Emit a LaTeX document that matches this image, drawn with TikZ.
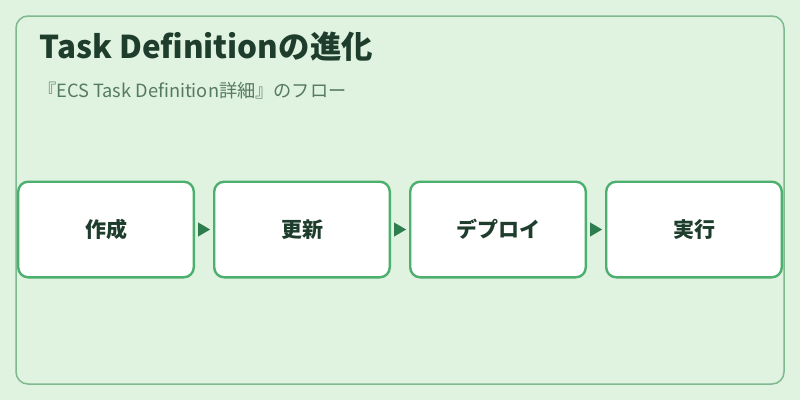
\documentclass[tikz,border=0pt]{standalone}
\usepackage{fontspec}
\setmainfont{Noto Sans CJK JP}
\usetikzlibrary{positioning,arrows.meta}

\definecolor{bgcol}{HTML}{E0F2E0}
\definecolor{framecol}{HTML}{7DBA8F}
\definecolor{boxcol}{HTML}{4CAF6E}
\definecolor{arrowcol}{HTML}{2E7D4F}
\definecolor{titlecol}{HTML}{1E3D2C}
\definecolor{subcol}{HTML}{557A62}

\tikzset{
    stepbox/.style={draw=boxcol, line width=2.4pt, fill=white, rounded corners=10pt,
        minimum width=175.6pt, minimum height=95.6pt, inner sep=0pt,
        font=\fontsize{21pt}{23pt}\selectfont\bfseries, text=titlecol},
    flowarrow/.style={draw=arrowcol, line width=0.1pt, shorten <=3pt, shorten >=3pt,
        -{Triangle[length=12pt, width=14pt]}, arrowcol}
}

\begin{document}
\begin{tikzpicture}[x=1pt, y=-1pt]

    % Background and frame
    \fill[bgcol] (0, 0) rectangle (800, 400);
    \useasboundingbox (0, 0) rectangle (800, 400);
    \draw[framecol, line width=1.5pt, rounded corners=12pt] (16, 16) rectangle (784, 384);

    % Titles
    \node[anchor=base west, inner sep=0pt, text=titlecol, font=\fontsize{31.4pt}{35pt}\selectfont\bfseries] (title) at (39, 58) {Task Definitionの進化};
    \node[anchor=base west, inner sep=0pt, text=subcol, font=\fontsize{18.2pt}{21pt}\selectfont] (subtitle) at (38, 97) {『ECS Task Definition詳細』のフロー};

    % Steps
    \node[stepbox] (create) at (106, 229.5) {作成};
    \node[stepbox, right=18pt of create] (update) {更新};
    \node[stepbox, right=18pt of update] (deploy) {デプロイ};
    \node[stepbox, right=18pt of deploy] (run) {実行};

    % Arrows
    \foreach \a/\b in {create/update, update/deploy, deploy/run} {
        \draw[flowarrow] (\a.east) -- (\b.west);
    }

\end{tikzpicture}
\end{document}
